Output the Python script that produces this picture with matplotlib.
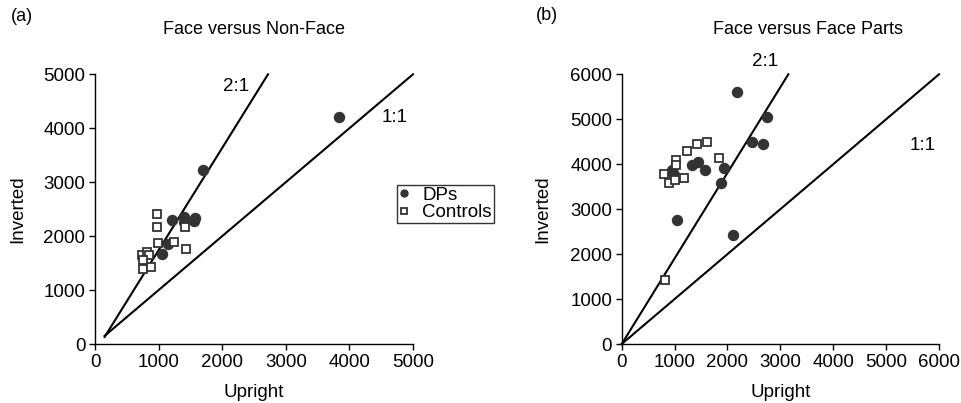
import matplotlib
matplotlib.use("Agg")
import matplotlib.pyplot as plt

plt.rcParams['font.family'] = ['Liberation Sans', 'DejaVu Sans']
plt.rcParams['font.size'] = 13.5

# panel (a) Face versus Non-Face
dps_a_x = [1216, 1400, 1572, 1404, 1561, 1153, 1048, 1703, 3841]
dps_a_y = [2301, 2362, 2332, 2269, 2282, 1850, 1664, 3228, 4217]
ctl_a_x = [970, 970, 1415, 986, 1242, 1431, 734, 812, 854, 760, 760, 880]
ctl_a_y = [2406, 2176, 2176, 1868, 1887, 1763, 1651, 1713, 1651, 1558, 1391, 1423]
line21_a = ([150, 2720], [130, 5000])
line11_a = ([150, 5000], [150, 5000])

# panel (b) Face versus Face Parts
dps_b_x = [2174, 2741, 2469, 2665, 1040, 2110, 1323, 1448, 1575, 1934, 1871, 964, 945, 989]
dps_b_y = [5600, 5043, 4500, 4443, 2759, 2425, 3982, 4056, 3871, 3909, 3588, 3798, 3871, 3760]
ctl_b_x = [800, 900, 1026, 1026, 1008, 1184, 1241, 1418, 1619, 1846, 820]
ctl_b_y = [3782, 3588, 4093, 3982, 3648, 3686, 4294, 4443, 4487, 4131, 1423]
line21_b = ([0, 3150], [0, 6000])
line11_b = ([0, 6000], [0, 6000])

dark = '#333333'

fig = plt.figure(figsize=(9.62, 4.03), dpi=100)
ax1 = fig.add_axes([0.0988, 0.1464, 0.3305, 0.6692])
ax2 = fig.add_axes([0.6463, 0.1464, 0.3298, 0.6692])


def style(ax, lim, ticks, ylx):
    ax.set_xlim(0, lim)
    ax.set_ylim(0, lim)
    ax.set_xticks(ticks)
    ax.set_yticks(ticks)
    for s in ['top', 'right']:
        ax.spines[s].set_visible(False)
    for s in ['left', 'bottom']:
        ax.spines[s].set_linewidth(1.0)
    ax.tick_params(direction='out', length=4, width=1, pad=3)
    ax.set_xlabel('Upright', va='center')
    ax.set_ylabel('Inverted', va='center')
    ax.xaxis.set_label_coords(0.5, -0.178)
    ax.yaxis.set_label_coords(ylx, 0.5)


for ax, l21, l11 in [(ax1, line21_a, line11_a), (ax2, line21_b, line11_b)]:
    ax.plot(l21[0], l21[1], color='black', lw=1.5, clip_on=False)
    ax.plot(l11[0], l11[1], color='black', lw=1.5, clip_on=False)

ax1.plot(dps_a_x, dps_a_y, 'o', ms=7.2, color=dark, mec=dark, label='DPs', clip_on=False)
ax1.plot(ctl_a_x, ctl_a_y, 's', ms=6, mfc='white', mec=dark, mew=1.3, label='Controls', clip_on=False)
ax2.plot(dps_b_x, dps_b_y, 'o', ms=7.2, color=dark, mec=dark, clip_on=False)
ax2.plot(ctl_b_x, ctl_b_y, 's', ms=6, mfc='white', mec=dark, mew=1.3, clip_on=False)

style(ax1, 5000, range(0, 5001, 1000), -0.242)
style(ax2, 6000, range(0, 6001, 1000), -0.248)

ax1.text(2217, 4768, '2:1', ha='center', va='center')
ax1.text(4717, 4193, '1:1', ha='center', va='center')
ax2.text(2709, 6274, '2:1', ha='center', va='center')
ax2.text(5696, 4427, '1:1', ha='center', va='center')

leg = ax1.legend(loc='upper left', bbox_to_anchor=(0.4127, 0.541),
                 bbox_transform=fig.transFigure, frameon=True, fancybox=False,
                 handlelength=0.5, handletextpad=0.75, borderpad=0.1,
                 labelspacing=0.02, borderaxespad=0)
leg.get_frame().set_edgecolor('black')
leg.get_frame().set_linewidth(1.0)
for h in leg.legend_handles:
    h.set_markersize(5)

fig.text(0.264, 0.926, 'Face versus Non-Face', ha='center', va='center', fontsize=13)
fig.text(0.840, 0.926, 'Face versus Face Parts', ha='center', va='center', fontsize=13)
fig.text(0.011, 0.958, '(a)', ha='left', va='center', fontsize=13)
fig.text(0.557, 0.962, '(b)', ha='left', va='center', fontsize=13)

fig.savefig('out.png', dpi=100)
